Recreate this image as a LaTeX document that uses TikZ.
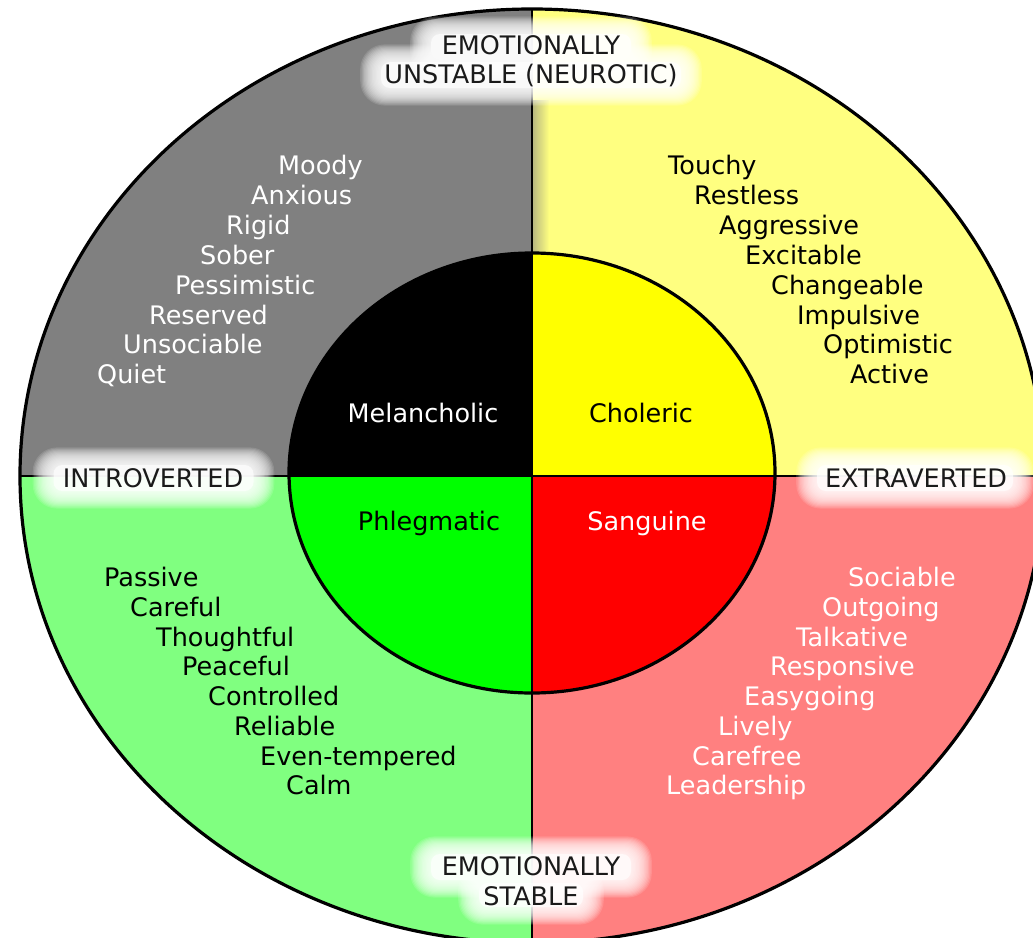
\documentclass[tikz,border=0pt]{standalone}
\usepackage{fontspec}
\setmainfont{DejaVu Sans}
\definecolor{qgray}{HTML}{808080}
\definecolor{qyel}{HTML}{FFFF80}
\definecolor{qgrn}{HTML}{80FF80}
\definecolor{qred}{HTML}{FF8080}
\definecolor{igrn}{HTML}{00FF00}
\definecolor{ired}{HTML}{FF0000}
\definecolor{iyel}{HTML}{FFFF00}
\definecolor{labelcol}{HTML}{1A1A1A}
\newcommand\glowrect[4]{%
  \foreach \k in {16,15,...,1}{%
    \fill[white,opacity=0.13,rounded corners={10pt+0.9*\k pt}] ({#1-#3-1.3*\k},{#2-#4-1.1*\k}) rectangle ({#1+#3+1.3*\k},{#2+#4+1.1*\k});
  }%
  \fill[white,opacity=0.7,rounded corners=9pt] ({#1-#3},{#2-#4}) rectangle ({#1+#3},{#2+#4});
}
\begin{document}
\begin{tikzpicture}[x=1pt,y=-1pt,
  word/.style={anchor=base west, inner sep=0pt, font=\fontsize{25.5}{30}\selectfont},
  lightword/.style={word, text=white},
  darkword/.style={word, text=black},
  centerlabel/.style={anchor=base, inner sep=0pt, font=\fontsize{25.5}{30}\selectfont},
  axislabel/.style={anchor=base, inner sep=0pt, text=labelcol, font=\fontsize{25.5}{30}\selectfont},
  divider/.style={line width=2.4pt, black},
  rim/.style={line width=3.2pt, black}]
\useasboundingbox (0,0) rectangle (1033,937);
\clip (0,0) rectangle (1033,937);
\fill[white] (0,0) rectangle (1033,937);
% outer quadrants
\begin{scope}
  \clip (532,476) ellipse [x radius=512pt, y radius=467pt];
  \fill[qgray] (0,0) rectangle (532,476);
  \fill[qyel] (532,0) rectangle (1060,476);
  \fill[qgrn] (0,476) rectangle (532,960);
  \fill[qred] (532,476) rectangle (1060,960);
  \shade[left color=qgray!55!qyel, right color=qyel] (533,100) rectangle (549,253);
\end{scope}
% inner quadrants
\begin{scope}
  \clip (532,473) ellipse [x radius=243pt, y radius=220pt];
  \fill[black] (280,240) rectangle (532,476);
  \fill[iyel] (532,240) rectangle (790,476);
  \fill[igrn] (280,476) rectangle (532,700);
  \fill[ired] (532,476) rectangle (790,700);
\end{scope}
% dividers
\coordinate (ntop) at (532,9);
\coordinate (nbot) at (532,945);
\coordinate (wleft) at (20,476);
\coordinate (eright) at (1046,476);
\draw[divider] (ntop) -- (nbot);
\draw[divider] (wleft) -- (eright);
% rims
\draw[rim] (532,476) ellipse [x radius=512pt, y radius=467pt];
\draw[rim] (532,473) ellipse [x radius=243pt, y radius=220pt];
% glows
\glowrect{153.5}{478}{100}{13}
\glowrect{915}{478}{98}{13}
\glowrect{531}{47}{100}{13}
\glowrect{531}{75}{150}{13}
\glowrect{531}{867}{100}{13}
\glowrect{531}{895}{52}{12}
% axis labels
\node[axislabel] (intro) at (153,487) {INTROVERTED};
\node[axislabel] (extra) at (916,487) {EXTRAVERTED};
\node[axislabel] (unst1) at (531,54) {EMOTIONALLY};
\node[axislabel] (unst2) at (531,83) {UNSTABLE (NEUROTIC)};
\node[axislabel] (stab1) at (531,875) {EMOTIONALLY};
\node[axislabel] (stab2) at (531,905) {STABLE};
% centre labels
\node[centerlabel, text=white] (mel) at (423,422) {Melancholic};
\node[centerlabel, text=black] (cho) at (641,422) {Choleric};
\node[centerlabel, text=black] (phl) at (429,530) {Phlegmatic};
\node[centerlabel, text=white] (san) at (647,530) {Sanguine};
% upper left
\node[lightword] (ul1) at (278,174) {Moody};
\node[lightword] (ul2) at (251,204) {Anxious};
\node[lightword] (ul3) at (226,234) {Rigid};
\node[lightword] (ul4) at (200,264) {Sober};
\node[lightword] (ul5) at (175,294) {Pessimistic};
\node[lightword] (ul6) at (149,324) {Reserved};
\node[lightword] (ul7) at (123,353) {Unsociable};
\node[lightword] (ul8) at (97,383) {Quiet};
% upper right
\node[darkword] (ur1) at (668,174) {Touchy};
\node[darkword] (ur2) at (694,204) {Restless};
\node[darkword] (ur3) at (719,234) {Aggressive};
\node[darkword] (ur4) at (745,264) {Excitable};
\node[darkword] (ur5) at (771,294) {Changeable};
\node[darkword] (ur6) at (797,324) {Impulsive};
\node[darkword] (ur7) at (823,353) {Optimistic};
\node[darkword] (ur8) at (850,383) {Active};
% lower left
\node[darkword] (ll1) at (104,586) {Passive};
\node[darkword] (ll2) at (130,616) {Careful};
\node[darkword] (ll3) at (156,646) {Thoughtful};
\node[darkword] (ll4) at (182,675) {Peaceful};
\node[darkword] (ll5) at (208,705) {Controlled};
\node[darkword] (ll6) at (234,735) {Reliable};
\node[darkword] (ll7) at (260,765) {Even-tempered};
\node[darkword] (ll8) at (286,794) {Calm};
% lower right
\node[lightword] (lr1) at (848,586) {Sociable};
\node[lightword] (lr2) at (822,616) {Outgoing};
\node[lightword] (lr3) at (796,646) {Talkative};
\node[lightword] (lr4) at (770,675) {Responsive};
\node[lightword] (lr5) at (744,705) {Easygoing};
\node[lightword] (lr6) at (718,735) {Lively};
\node[lightword] (lr7) at (692,765) {Carefree};
\node[lightword] (lr8) at (666,794) {Leadership};
\end{tikzpicture}
\end{document}
